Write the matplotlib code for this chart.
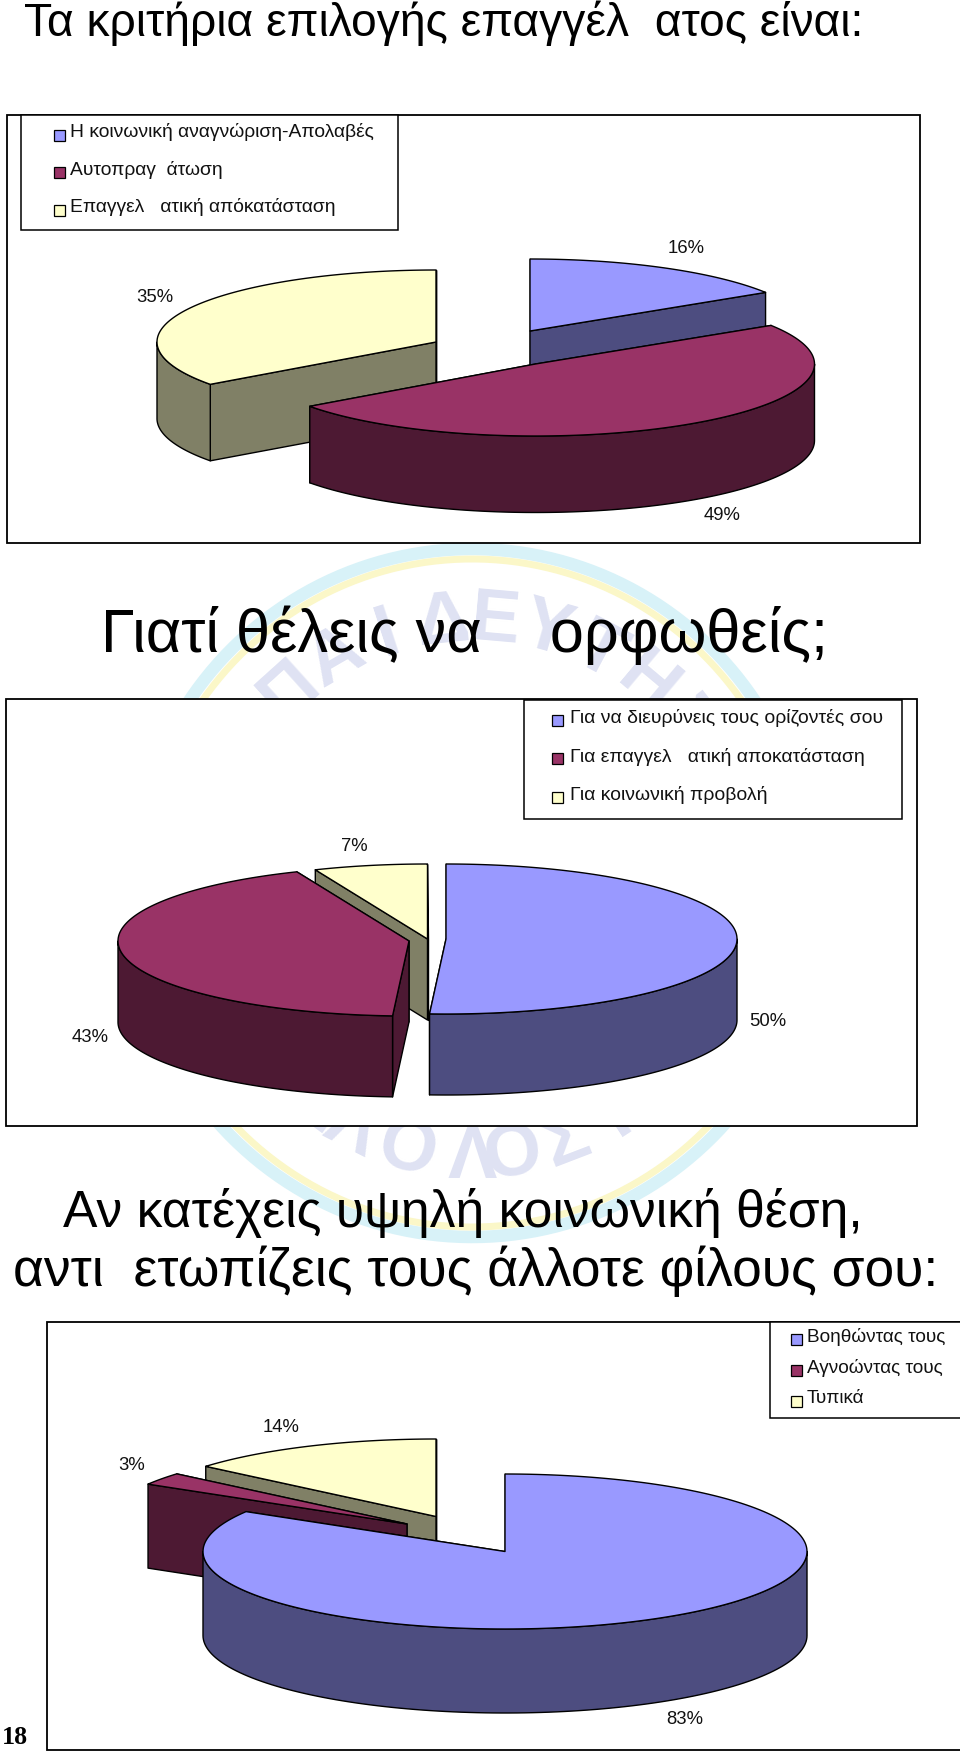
import numpy as np
import matplotlib
matplotlib.use('Agg')
import matplotlib.pyplot as plt

names1 = ['Η κοινωνική αναγνώριση-Απολαβές', 'Αυτοπραγ  άτωση', 'Επαγγελ   ατική απόκατάσταση']
shares1 = [16, 49, 35]
labels1 = ['16%', '49%', '35%']

names2 = ['Για να διευρύνεις τους ορίζοντές σου', 'Για επαγγελ   ατική αποκατάσταση', 'Για κοινωνική προβολή']
shares2 = [50.9, 42.8, 6.3]
labels2 = ['50%', '43%', '7%']

names3 = ['Βοηθώντας τους', 'Αγνοώντας τους', 'Τυπικά']
shares3 = [83.6, 2.6, 13.8]
labels3 = ['83%', '3%', '14%']

top_cols = ['#9999FF', '#993366', '#FFFFCC']
side_cols = ['#4D4D80', '#4D1933', '#808066']

plt.rcParams['font.family'] = ['Liberation Sans', 'DejaVu Sans']

W, H = 960, 1753
fig = plt.figure(figsize=(W / 100, H / 100), dpi=100)
ax = fig.add_axes([0, 0, 1, 1])
ax.set_xlim(0, W)
ax.set_ylim(H, 0)
ax.axis('off')


def px(size):
    return size * 0.72


def draw_watermark():
    t = np.linspace(0, 2 * np.pi, 400)
    cx, cy = 472, 893
    ax.plot(cx + 341 * np.cos(t), cy + 344 * np.sin(t), color='#D8F2F8', lw=9, zorder=0)
    ax.plot(cx + 330 * np.cos(t), cy + 334 * np.sin(t), color='#FBF7C8', lw=5, zorder=0)
    for ch, ang in zip('ΠΑΙΔΕΥΤΗΣ', [-42, -30, -18, -6, 5, 16, 28, 40, 52]):
        a = np.radians(ang)
        ax.text(cx + 272 * np.sin(a), cy - 272 * np.cos(a), ch, fontsize=px(74), color='#DFE2F3',
                fontweight='bold', ha='center', va='center', rotation=-ang, zorder=0.5)
    for ch, ang in zip('ΣΛΟΛΟΣΙ', [-36, -27, -14, 0, 9, 21, 33]):
        a = np.radians(ang)
        ax.text(cx + 265 * np.sin(a), cy + 265 * np.cos(a), ch, fontsize=px(74), color='#DFE2F3',
                fontweight='bold', ha='center', va='center', rotation=ang, zorder=0.5)


def draw_frame(x0, x1, y0, y1):
    ax.fill([x0, x1, x1, x0], [y0, y0, y1, y1], facecolor='white', edgecolor='black', lw=1.3, zorder=1)


def draw_slice(cx, cy, a, b, depth, start, end, top, side, z):
    # start and end are ellipse angles in degrees, going clockwise
    def pt(deg):
        r = np.radians(deg)
        return cx + a * np.cos(r), cy - b * np.sin(r)

    kw = dict(edgecolor='black', lw=1.0, zorder=z, joinstyle='round')
    # radial walls, the one further back first so the front one hides it
    for deg in sorted((start, end), key=lambda d: pt(d)[1]):
        x, y = pt(deg)
        ax.fill([cx, x, x, cx], [cy, y, y + depth, cy + depth], facecolor=side, **kw)
    # outer wall, only the front half of the ellipse shows
    lo, hi = max(end, -180), min(start, 0)
    if lo < hi:
        xs, ys = pt(np.linspace(hi, lo, 120))
        ax.fill(np.r_[xs, xs[::-1]], np.r_[ys, ys[::-1] + depth], facecolor=side, **kw)
    xs, ys = pt(np.linspace(start, end, 200))
    ax.fill(np.r_[cx, xs], np.r_[cy, ys], facecolor=top, **kw)


def draw_pie(shares, centers, order, a, b, depth):
    angles = 90 - np.r_[0, np.cumsum(shares)] * 3.6
    for z, i in enumerate(order):
        cx, cy = centers[i]
        draw_slice(cx, cy, a, b, depth, angles[i], angles[i + 1], top_cols[i], side_cols[i], 2 + z * 0.1)


def draw_legend(names, box, swatch_x, swatch_ys, text_x, text_ys, size):
    x0, x1, y0, y1 = box
    ax.fill([x0, x1, x1, x0], [y0, y0, y1, y1], facecolor='white', edgecolor='black', lw=1.1, zorder=3)
    for i, name in enumerate(names):
        sy = swatch_ys[i]
        ax.fill([swatch_x, swatch_x + 11, swatch_x + 11, swatch_x], [sy, sy, sy + 11, sy + 11],
                facecolor=top_cols[i], edgecolor='black', lw=0.9, zorder=4)
        ax.text(text_x, text_ys[i] + 1, name, fontsize=px(size), color='#111111', ha='left', va='center', zorder=4)


def put_labels(labels, spots):
    for lab, (x, y) in zip(labels, spots):
        ax.text(x, y + 2, lab, fontsize=px(18.5), color='#111111', ha='center', va='center', zorder=4)


draw_watermark()

# first chart
ax.text(24, 36, 'Τα κριτήρια επιλογής επαγγέλ  ατος είναι:', fontsize=px(46.2), ha='left', va='baseline', zorder=5)
draw_frame(7, 920, 114.5, 543)
draw_pie(shares1, [(530, 331), (535.5, 364), (436, 342)], [2, 0, 1], 279, 72, 76.5)
draw_legend(names1, (21, 398, 115, 230), 54, [130, 167, 205], 70, [131, 169, 206], 19.3)
put_labels(labels1, [(686, 246.5), (722, 514), (155, 295)])

# second chart
ax.text(101, 652, 'Γιατί θέλεις να    ορφωθείς;', fontsize=px(61.2), ha='left', va='baseline', zorder=5)
draw_frame(5.5, 917, 698.5, 1125.5)
draw_pie(shares2, [(446, 939), (409, 941), (427.5, 939)], [2, 1, 0], 291, 75, 81)
draw_legend(names2, (523.5, 902, 699.5, 818.5), 552, [714.5, 753, 791.5], 570, [717, 755.5, 794], 19.4)
put_labels(labels2, [(768, 1019.5), (90.5, 1036), (354, 844.5)])

# third chart
ax.text(63, 1227, 'Αν κατέχεις υψηλή κοινωνική θέση,', fontsize=px(51.6), ha='left', va='baseline', zorder=5)
ax.text(13, 1286, 'αντι  ετωπίζεις τους άλλοτε φίλους σου:', fontsize=px(53.4), ha='left', va='baseline', zorder=5)
draw_frame(47, 961, 1322, 1750)
draw_pie(shares3, [(505, 1551.5), (407, 1524), (436, 1516.5)], [2, 1, 0], 302, 77.5, 84)
draw_legend(names3, (770, 961, 1322, 1418), 791, [1334, 1364.5, 1395.5], 807, [1336, 1367, 1397.5], 19)
put_labels(labels3, [(684.5, 1718), (131.5, 1463), (281.5, 1426)])

ax.text(2, 1737, '18', fontsize=px(26), fontweight='bold', family=['Liberation Serif', 'DejaVu Serif'],
        ha='left', va='center', zorder=5)

fig.savefig('out.png', dpi=100, facecolor='white')
